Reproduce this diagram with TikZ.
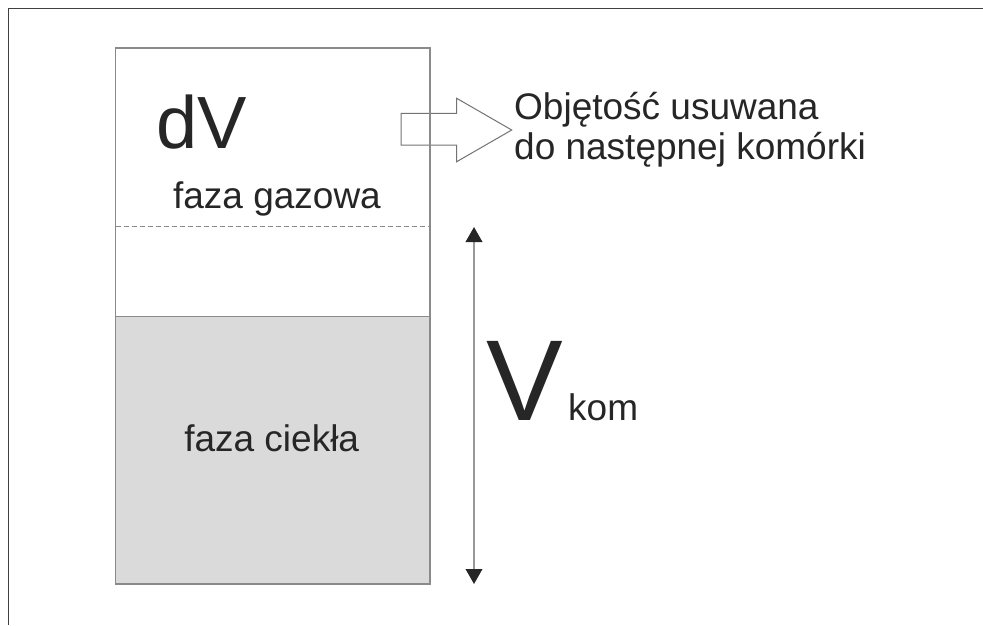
\documentclass[tikz,border=0pt]{standalone}
\usepackage{fontspec}
\setmainfont{Liberation Sans}
\usetikzlibrary{positioning,arrows.meta}
\definecolor{frm}{HTML}{404040}
\definecolor{boxln}{HTML}{8A8A8A}
\definecolor{liq}{HTML}{D9DAD9}
\definecolor{txt}{HTML}{262626}
\tikzset{
  frame/.style={line width=1.8pt,frm},
  cellln/.style={line width=1.4pt,boxln},
  lvl/.style={line width=1pt,boxln,dash pattern=on 5pt off 3pt},
  blk/.style={line width=1pt,black!55,fill=white},
  vdim/.style={{Triangle[length=15pt,width=16.5pt,color=txt]}-{Triangle[length=15pt,width=16.5pt,color=txt]},
    line width=2pt,black!40},
  lbl/.style={inner sep=0pt,text=txt,font=\fontsize{37}{40}\selectfont},
}
\begin{document}
\begin{tikzpicture}[x=1pt,y=-1pt]
  \useasboundingbox (0,0) rectangle (983,625);
  \fill[white] (0,0) rectangle (983,625);
  % cropped outer frame
  \draw[frame] (8.5,625) -- (8.5,8.5) -- (983,8.5);
  % cell
  \fill[liq] (115.5,316.7) rectangle (430,584);
  \draw[lvl] (115.5,226) -- (430,226);
  \draw[cellln] (115.5,316.7) -- (430,316.7);
  \draw[cellln] (115.5,48) rectangle (430,584);
  % outflow arrow
  \draw[blk] (401,113.3) -- (456.7,113.3) -- (456.7,98.3) -- (511.7,130)
    -- (456.7,161.7) -- (456.7,145) -- (401,145) -- cycle;
  \draw[cellln] (430,98) -- (430,162);
  % labels
  \node[lbl,anchor=base west,font=\fontsize{74}{80}\selectfont] (dv) at (156,148.3) {dV};
  \node[lbl,anchor=base] (gas) at (277,208.3) {faza gazowa};
  \node[lbl,anchor=base] (liquid) at (271.7,451.7) {faza ciekła};
  \node[lbl,anchor=base west] (out1) at (514,119.3) {Objętość usuwana};
  \node[lbl,anchor=base west] (out2) at (514,159) {do następnej komórki};
  % cell volume
  \coordinate (vtop) at (474,227);
  \coordinate (vbot) at (474,584);
  \draw[vdim] (vtop) -- (vbot);
  \node[lbl,anchor=base west,font=\fontsize{115}{120}\selectfont] (vk) at (486,420) {V};
  \node[lbl,anchor=base west] (kom) at (568,420) {kom};
\end{tikzpicture}
\end{document}
